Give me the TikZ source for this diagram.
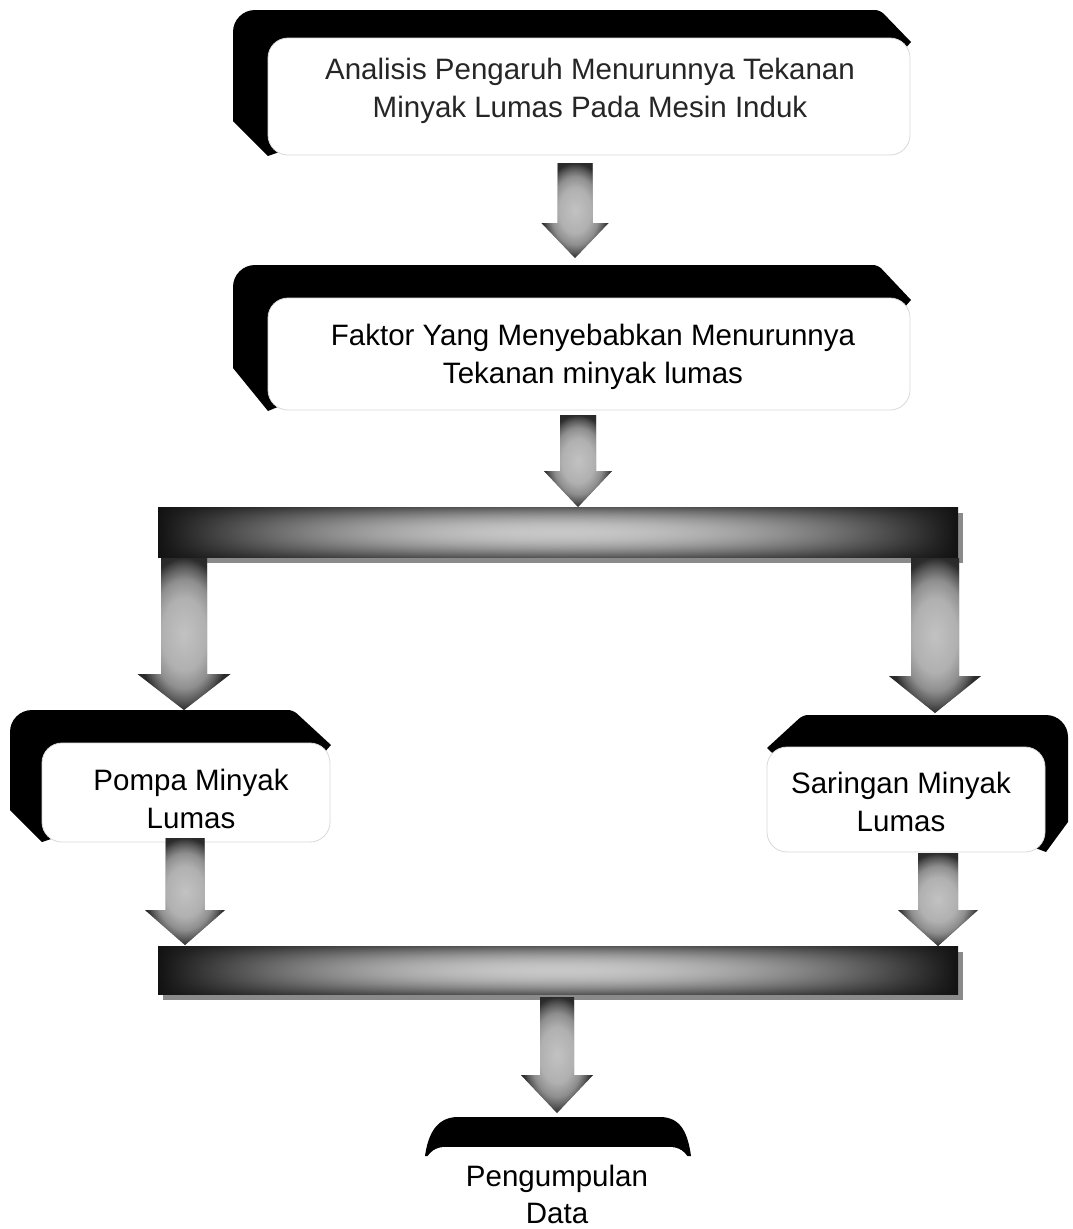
\documentclass[tikz,border=0pt]{standalone}
\usepackage{fontspec}
\setmainfont{Liberation Sans}
\usetikzlibrary{calc,shadows}

\definecolor{ashA}{HTML}{C2C2C2}
\definecolor{ashB}{HTML}{B0B0B0}
\definecolor{ashC}{HTML}{8E8E8E}
\definecolor{ashD}{HTML}{5A5A5A}
\definecolor{ashE}{HTML}{2C2C2C}
\definecolor{ashF}{HTML}{1C1C1C}
\definecolor{shadowgray}{HTML}{8A8A8A}

\pgfdeclareradialshading{arrowshade}{\pgfpoint{0bp}{0bp}}{%
  color(0bp)=(ashA); color(12bp)=(ashB); color(18bp)=(ashC);
  color(22bp)=(ashD); color(25bp)=(ashE); color(36bp)=(ashF);
  color(50bp)=(ashF)}
\pgfdeclarefunctionalshading{barfn}{\pgfpoint{-50bp}{-50bp}}{\pgfpoint{50bp}{50bp}}{}{%
  25 div dup mul 0.62 mul 1 exch sub
  exch 25 div dup mul 1 exch sub
  dup 0 lt {pop 0} if
  mul 0.71 mul 0.07 add
  dup dup
}

\newcommand{\arrowpath}[5]{let \p1=(#1), \p2=(#2) in
  (\x1-#3pt,\y1) -- (\x1+#3pt,\y1) -- (\x1+#3pt,\y2+#5pt) --
  (\x1+#4pt,\y2+#5pt) -- (\x1,\y2) -- (\x1-#4pt,\y2+#5pt) --
  (\x1-#3pt,\y2+#5pt) -- cycle}
\newcommand{\blockarrow}[5]{%
  \fill[shadowgray,xshift=4pt,yshift=-4pt] \arrowpath{#1}{#2}{#3}{#4}{#5};
  \shade[shading=arrowshade] \arrowpath{#1}{#2}{#3}{#4}{#5};}

\tikzset{
  blk/.style={fill=black},
  whitebox/.style={draw=black!15, line width=0.8pt, fill=white,
    rounded corners=20pt, inner sep=0pt},
  label/.style={font=\fontsize{29.5}{38}\selectfont, align=center,
    inner sep=0pt},
  barnode/.style={shading=barfn, inner sep=0pt,
    drop shadow={shadow xshift=5pt, shadow yshift=-6pt,
      fill=shadowgray, opacity=1}},
}

\begin{document}
\begin{tikzpicture}[x=1pt,y=-1pt]
\useasboundingbox[fill=white] (0,0) rectangle (1073,1229);

% ---- black frames ----
\fill[blk] (233,121) [rounded corners=22pt] -- (233,10) [rounded corners=5pt]
  -- (880,10) [sharp corners] -- (911,42) -- (895,60) -- (285,60)
  -- (285,150) -- (268,156) -- cycle;
\fill[blk] (233,368) [rounded corners=22pt] -- (233,265) [rounded corners=5pt]
  -- (878,265) [sharp corners] -- (911,300) -- (895,318) -- (285,318)
  -- (285,404) -- (268,411) -- cycle;
\fill[blk] (10,810) [rounded corners=22pt] -- (10,710) [rounded corners=5pt]
  -- (293,710) [sharp corners] -- (331,745) -- (315,763) -- (60,763)
  -- (60,836) -- (42,842) -- cycle;
\fill[blk] (767,748) [rounded corners=5pt] -- (803,715) [rounded corners=22pt]
  -- (1068,715) [sharp corners] -- (1068,822) -- (1046,852) -- (1030,846)
  -- (1030,765) -- (785,765) -- cycle;
\fill[blk] (425,1156) .. controls (428,1135) and (436,1117) .. (458,1117)
  -- (660,1117) .. controls (682,1117) and (688,1135) .. (691,1156) -- cycle;

% ---- white boxes ----
\node[whitebox, minimum width=642pt, minimum height=117pt] (b1) at (589,96.5) {};
\node[whitebox, minimum width=642pt, minimum height=112pt] (b2) at (589,354) {};
\node[whitebox, minimum width=288pt, minimum height=99pt] (b3) at (186,792.5) {};
\node[whitebox, minimum width=278pt, minimum height=105pt] (b4) at (906,799.5) {};
\node[whitebox, draw=none, minimum width=266pt, minimum height=110pt] (b5) at (557.5,1202) {};

% ---- texts ----
\node[label, text=black!85] (t1) at (590,91)
  {Analisis Pengaruh Menurunnya Tekanan\\Minyak Lumas Pada Mesin Induk};
\node[label] (t2) at (593,357)
  {Faktor Yang Menyebabkan Menurunnya\\Tekanan minyak lumas};
\node[label] (t3) at (191,799) {Pompa Minyak\\Lumas};
\node[label] (t4) at (901,802) {Saringan Minyak\\Lumas};
\node[label, font=\fontsize{29.5}{37}\selectfont] (t5) at (557,1194) {Pengumpulan\\Data};

% ---- bars ----
\node[barnode, minimum width=800pt, minimum height=50pt] (bar1) at (558,532) {};
\node[barnode, minimum width=800pt, minimum height=48pt] (bar2) at (558,970) {};

% ---- arrow end points ----
\coordinate (a1s) at (575,163);  \coordinate (a1e) at (575,258);
\coordinate (a2s) at (578,415);  \coordinate (a2e) at (578,507);
\coordinate (aLs) at (184,558);  \coordinate (aLe) at (184,710);
\coordinate (aRs) at (935,558);  \coordinate (aRe) at (935,713);
\coordinate (aPs) at (185,838);  \coordinate (aPe) at (185,945);
\coordinate (aSs) at (938,853);  \coordinate (aSe) at (938,946);
\coordinate (aBs) at (557,997);  \coordinate (aBe) at (557,1113);

\blockarrow{a1s}{a1e}{17.5}{33.5}{35}
\blockarrow{a2s}{a2e}{18}{34}{36}
\blockarrow{aLs}{aLe}{23}{46.5}{36}
\blockarrow{aRs}{aRe}{24}{46}{37}
\blockarrow{aPs}{aPe}{19.5}{40}{35}
\blockarrow{aSs}{aSe}{20}{40}{36}
\blockarrow{aBs}{aBe}{17}{36}{38}
\end{tikzpicture}
\end{document}
